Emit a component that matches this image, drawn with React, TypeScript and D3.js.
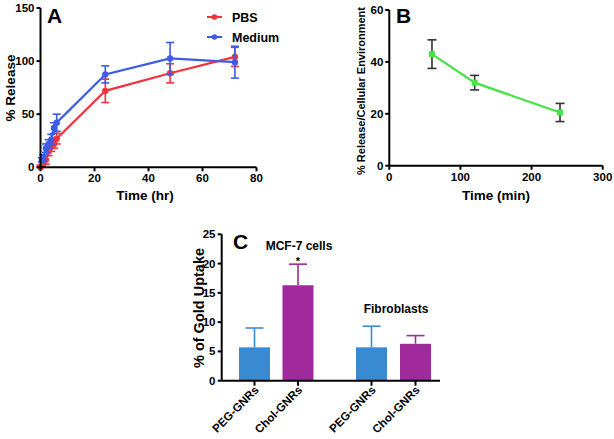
import React from "react";
import * as d3 from "d3";

const timesA = [0, 1, 2, 3, 4, 5, 6, 24, 48, 72];
const pbsVals = [0, 3, 7, 15, 19, 22, 27, 72, 88.5, 104];
const pbsErr = [2, 3, 4, 4, 4, 4, 5, 11, 9, 9];
const medTimes = [0.5, 1, 2, 3, 4, 5, 6, 24, 48, 72];
const medVals = [7, 9, 18, 22, 26, 37, 42, 87.5, 102.5, 99];
const medErr = [2, 3, 4, 4, 5, 5, 8, 8, 15, 15];

const timesB = [60, 120, 240];
const valsB = [43, 32, 20.5];
const errB = [5.5, 2.8, 3.5];

const catsC = ["PEG-GNRs", "Chol-GNRs", "PEG-GNRs", "Chol-GNRs"];
const valsC = [5.7, 16.3, 5.7, 6.3];
const errC = [3.3, 3.6, 3.6, 1.4];
const groupsC = ["MCF-7 cells", "Fibroblasts"];

const RED = "#f4323c";
const BLUE = "#3c5ce4";
const GREEN = "#44e444";
const BAR_BLUE = "#3a8ad2";
const BAR_MAG = "#a02a9c";
const FONT = "'Liberation Sans', Arial, sans-serif";

export default function App() {
  const xA = d3.scaleLinear().domain([0, 80]).range([40.5, 256.5]);
  const yA = d3.scaleLinear().domain([0, 150]).range([167.3, 8]);
  const lineA = (xs: number[], ys: number[]) =>
    d3.line<number>().x((_, i) => xA(xs[i])).y((d) => yA(d))(ys) || "";

  const xB = d3.scaleLinear().domain([0, 300]).range([389.3, 602.7]);
  const yB = d3.scaleLinear().domain([0, 60]).range([165.7, 10]);
  const lineB = d3.line<number>().x((_, i) => xB(timesB[i])).y((d) => yB(d))(valsB) || "";

  const yC = d3.scaleLinear().domain([0, 25]).range([380.7, 234.3]);
  const barCenters = [254.5, 298, 371.5, 415.5];
  const barW = 31;

  const errBars = (xs: number[], ys: number[], es: number[], xs_: (v: number) => number, ys_: (v: number) => number, color: string, cap = 4) =>
    xs.map((t, i) => {
      const x = xs_(t);
      const y1 = ys_(ys[i] + es[i]);
      const y2 = ys_(Math.max(0, ys[i] - es[i]));
      return (
        <g key={i} stroke={color} strokeWidth={1.6}>
          <line x1={x} x2={x} y1={y1} y2={y2} />
          <line x1={x - cap} x2={x + cap} y1={y1} y2={y1} />
          <line x1={x - cap} x2={x + cap} y1={y2} y2={y2} />
        </g>
      );
    });

  return (
    <svg width={614} height={439} style={{ position: "absolute", left: 0, top: 0, background: "#fff" }} fontFamily={FONT} fontWeight="bold">
      {/* ===== Panel A ===== */}
      <g>
        <path d={lineA(timesA, pbsVals)} fill="none" stroke={RED} strokeWidth={2.2} />
        {errBars(timesA, pbsVals, pbsErr, xA, yA, RED)}
        {timesA.map((t, i) => (
          <circle key={i} cx={xA(t)} cy={yA(pbsVals[i])} r={3.2} fill={RED} />
        ))}
        <path d={lineA(medTimes, medVals)} fill="none" stroke={BLUE} strokeWidth={2.2} />
        {errBars(medTimes, medVals, medErr, xA, yA, BLUE)}
        {medTimes.map((t, i) => (
          <circle key={i} cx={xA(t)} cy={yA(medVals[i])} r={3.2} fill={BLUE} />
        ))}
        <line x1={xA(0)} x2={xA(80)} y1={yA(0)} y2={yA(0)} stroke="#000" strokeWidth={2} />
        <line x1={xA(0)} x2={xA(0)} y1={yA(0)} y2={yA(150)} stroke="#000" strokeWidth={2} />
        {xA.ticks(4).map((t) => (
          <g key={t}>
            <line x1={xA(t)} x2={xA(t)} y1={yA(0)} y2={yA(0) + 4} stroke="#000" strokeWidth={2} />
            <text x={xA(t)} y={yA(0) + 15} fontSize={11.5} textAnchor="middle">{t}</text>
          </g>
        ))}
        {[0, 50, 100, 150].map((t) => (
          <g key={t}>
            <line x1={xA(0) - 4} x2={xA(0)} y1={yA(t)} y2={yA(t)} stroke="#000" strokeWidth={2} />
            <text x={xA(0) - 6} y={yA(t) + 4} fontSize={11.5} textAnchor="end">{t}</text>
          </g>
        ))}
        <text x={145} y={200} fontSize={13.5} textAnchor="middle">Time (hr)</text>
        <text transform="translate(15,88) rotate(-90)" fontSize={13.5} textAnchor="middle">% Release</text>
        <text x={47} y={23} fontSize={21}>A</text>
        <line x1={207} x2={222} y1={17} y2={17} stroke={RED} strokeWidth={2} />
        <circle cx={214.5} cy={17} r={2.8} fill={RED} />
        <text x={232} y={21.5} fontSize={12.5}>PBS</text>
        <line x1={207} x2={222} y1={37} y2={37} stroke={BLUE} strokeWidth={2} />
        <circle cx={214.5} cy={37} r={2.8} fill={BLUE} />
        <text x={232} y={41.5} fontSize={12.5}>Medium</text>
      </g>

      {/* ===== Panel B ===== */}
      <g>
        <path d={lineB} fill="none" stroke={GREEN} strokeWidth={2.2} />
        {errBars(timesB, valsB, errB, xB, yB, "#333", 4.5)}
        {timesB.map((t, i) => (
          <rect key={i} x={xB(t) - 3} y={yB(valsB[i]) - 3} width={6} height={6} fill={GREEN} />
        ))}
        <line x1={xB(0)} x2={xB(300)} y1={yB(0)} y2={yB(0)} stroke="#000" strokeWidth={2} />
        <line x1={xB(0)} x2={xB(0)} y1={yB(0)} y2={yB(60)} stroke="#000" strokeWidth={2} />
        {[0, 100, 200, 300].map((t) => (
          <g key={t}>
            <line x1={xB(t)} x2={xB(t)} y1={yB(0)} y2={yB(0) + 4} stroke="#000" strokeWidth={2} />
            <text x={xB(t)} y={yB(0) + 15} fontSize={11.5} textAnchor="middle">{t}</text>
          </g>
        ))}
        {[0, 20, 40, 60].map((t) => (
          <g key={t}>
            <line x1={xB(0) - 4} x2={xB(0)} y1={yB(t)} y2={yB(t)} stroke="#000" strokeWidth={2} />
            <text x={xB(0) - 6} y={yB(t) + 4} fontSize={11.5} textAnchor="end">{t}</text>
          </g>
        ))}
        <text x={496} y={200} fontSize={13.5} textAnchor="middle">Time (min)</text>
        <text transform="translate(365,91) rotate(-90)" fontSize={11} textAnchor="middle" textLength={168} lengthAdjust="spacingAndGlyphs">% Release/Cellular Environment</text>
        <text x={396} y={23} fontSize={21}>B</text>
      </g>

      {/* ===== Panel C ===== */}
      <g>
        {valsC.map((v, i) => {
          const cx = barCenters[i];
          const color = i % 2 === 0 ? BAR_BLUE : BAR_MAG;
          const yTop = yC(v + errC[i]);
          return (
            <g key={i}>
              <line x1={cx} x2={cx} y1={yC(v)} y2={yTop} stroke={color} strokeWidth={1.6} />
              <line x1={cx - 9} x2={cx + 9} y1={yTop} y2={yTop} stroke={color} strokeWidth={1.6} />
              <rect x={cx - barW / 2} y={yC(v)} width={barW} height={yC(0) - yC(v)} fill={color} />
            </g>
          );
        })}
        <line x1={221.7} x2={440} y1={yC(0)} y2={yC(0)} stroke="#000" strokeWidth={2} />
        <line x1={221.7} x2={221.7} y1={yC(0)} y2={yC(25)} stroke="#000" strokeWidth={2} />
        {[0, 5, 10, 15, 20, 25].map((t) => (
          <g key={t}>
            <line x1={217.7} x2={221.7} y1={yC(t)} y2={yC(t)} stroke="#000" strokeWidth={2} />
            <text x={215.5} y={yC(t) + 4} fontSize={11.5} textAnchor="end">{t}</text>
          </g>
        ))}
        {catsC.map((c, i) => (
          <g key={i}>
            <line x1={barCenters[i]} x2={barCenters[i]} y1={yC(0)} y2={yC(0) + 5} stroke="#000" strokeWidth={2} />
            <text transform={`translate(${barCenters[i] + 5},${yC(0) + 10}) rotate(-45)`} fontSize={11.5} textAnchor="end">{c}</text>
          </g>
        ))}
        <text transform="translate(204,308) rotate(-90)" fontSize={14.5} textAnchor="middle">% of Gold Uptake</text>
        <text x={233} y={249} fontSize={21}>C</text>
        <text x={299} y={250} fontSize={12} textAnchor="middle">{groupsC[0]}</text>
        <text x={298} y={265} fontSize={11} textAnchor="middle">*</text>
        <text x={396} y={313} fontSize={12} textAnchor="middle">{groupsC[1]}</text>
      </g>
    </svg>
  );
}
